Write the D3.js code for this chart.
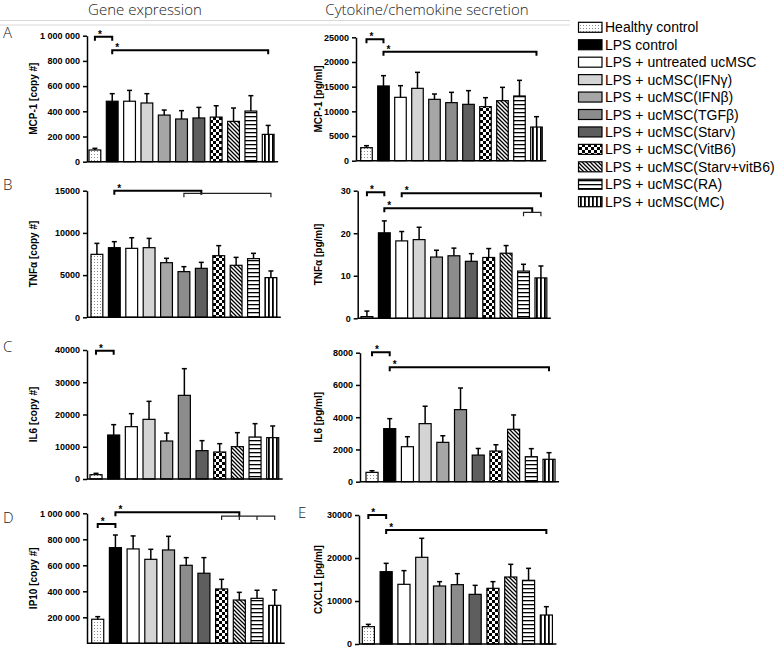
<!DOCTYPE html>
<html><head><meta charset="utf-8">
<script src="https://cdn.jsdelivr.net/npm/d3@7/dist/d3.min.js"></script>
<style>body{margin:0;background:#fff}</style>
</head><body>
<svg id="c" width="778" height="649" xmlns="http://www.w3.org/2000/svg"></svg>
<script>
// ---------- DATA ----------
const categories = ["Healthy control","LPS control","LPS + untreated ucMSC","LPS + ucMSC(IFNγ)","LPS + ucMSC(IFNβ)","LPS + ucMSC(TGFβ)","LPS + ucMSC(Starv)","LPS + ucMSC(VitB6)","LPS + ucMSC(Starv+vitB6)","LPS + ucMSC(RA)","LPS + ucMSC(MC)"];

const mcp1GeneMean = [93000, 480000, 480000, 466000, 370000, 339000, 347000, 354000, 320000, 402000, 217000];
const mcp1GeneSem  = [13000, 60000, 86000, 74000, 40000, 66000, 84000, 90000, 106000, 122000, 71000];
const mcp1SecMean  = [2640, 15140, 12840, 14660, 12430, 11760, 11420, 10950, 12160, 13110, 6820];
const mcp1SecSem   = [400, 2090, 2360, 3240, 1080, 2090, 2770, 1820, 2700, 3170, 2100];
const tnfGeneMean  = [7460, 8250, 8170, 8250, 6470, 5410, 5800, 7300, 6160, 6950, 4700];
const tnfGeneSem   = [1300, 710, 1260, 1100, 520, 590, 710, 1190, 940, 630, 790];
const tnfSecMean   = [0.4, 20.1, 18.2, 18.5, 14.4, 14.7, 13.4, 14.3, 15.3, 11.1, 9.5];
const tnfSecSem    = [1.3, 2.8, 2.2, 2.9, 1.6, 1.8, 1.8, 2.1, 1.8, 1.6, 2.8];
const il6GeneMean  = [1340, 13640, 16230, 18500, 11780, 25940, 8790, 8370, 10030, 13020, 12820];
const il6GeneSem   = [420, 3210, 4030, 5580, 2480, 8270, 3100, 2580, 4340, 4140, 3620];
const il6SecMean   = [580, 3290, 2170, 3600, 2440, 4470, 1650, 1900, 3250, 1550, 1390];
const il6SecSem    = [100, 620, 620, 1080, 410, 1340, 410, 390, 890, 500, 410];
const ip10GeneMean = [185000, 736000, 726000, 646000, 718000, 600000, 539000, 418000, 333000, 346000, 292000];
const ip10GeneSem  = [20000, 97000, 100000, 77000, 105000, 59000, 120000, 74000, 59000, 62000, 118000];
const cxcl1SecMean = [4030, 16820, 13880, 20160, 13490, 13800, 11550, 12950, 15580, 14810, 6740];
const cxcl1SecSem  = [540, 1940, 3180, 4420, 1010, 2560, 2090, 1550, 2950, 2790, 1940];

const ticksMillion = [0, 200000, 400000, 600000, 800000, 1000000];
const ticksIP10    = [200000, 400000, 600000, 800000, 1000000];
const ticksMcpSec  = [0, 5000, 10000, 15000, 20000, 25000];
const ticksTnfGene = [0, 5000, 10000, 15000];
const ticksTnfSec  = [0, 10, 20, 30];
const ticksIl6Gene = [0, 10000, 20000, 30000, 40000];
const ticksIl6Sec  = [0, 2000, 4000, 6000, 8000];
const ticksCxcl1   = [0, 10000, 20000, 30000];

// significance brackets: from/to bar index, y in data units
const sigMcpGene = [{a:0,b:1,y:992000,star:true},{a:1,b:10,y:884000,star:true}];
const sigMcpSec  = [{a:0,b:1,y:24600,star:true},{a:1,b:10,y:22080,star:true}];
const sigTnfGene = [{a:1,b:6,y:15000,star:true},{a:5,b:10,y:14690,thin:true}];
const sigTnfSec  = [{a:0,b:1,y:29.62,star:true},{a:2,b:10,y:29.39,star:true},{a:1,b:9.5,y:25.86,star:true},{a:9,b:10,y:24.92,thin:true}];
const sigIl6Gene = [{a:0,b:1,y:39780,star:true}];
const sigIl6Sec  = [{a:0,b:1,y:8025,star:true},{a:1,b:10,y:7095,star:true}];
const sigIp10    = [{a:0,b:1,y:918000,star:true},{a:1,b:8,y:1008000,star:true},{a:7,b:10,y:979000,thin:true,mid:[8,9]}];
const sigCxcl1   = [{a:0,b:1,y:30000,star:true},{a:1,b:10,y:26510,star:true}];

const titles = ["Gene expression","Cytokine/chemokine secretion"];

// ---------- DRAW ----------
const svg = d3.select("#c");
const defs = svg.append("defs");

function pat(id, w, h, build) {
  const p = defs.append("pattern").attr("id", id).attr("patternUnits","userSpaceOnUse")
    .attr("width", w).attr("height", h);
  p.append("rect").attr("width", w).attr("height", h).attr("fill", "#fff");
  build(p);
}
pat("pDots", 3, 3, p => { p.append("rect").attr("x",1).attr("y",1).attr("width",1).attr("height",1).attr("fill","#8a8a8a"); });
pat("pCheck", 6, 6, p => {
  p.append("rect").attr("x",0).attr("y",0).attr("width",3).attr("height",3).attr("fill","#000");
  p.append("rect").attr("x",3).attr("y",3).attr("width",3).attr("height",3).attr("fill","#000");
});
pat("pDiag", 4, 4, p => { p.append("path").attr("d","M-1,-1L5,5M-1,3L1,5M3,-1L5,1").attr("stroke","#000").attr("stroke-width",1.3); });
pat("pHor", 4, 4, p => { p.append("rect").attr("x",0).attr("y",0).attr("width",4).attr("height",1.3).attr("fill","#000"); });
pat("pVer", 4, 4, p => { p.append("rect").attr("x",0).attr("y",0).attr("width",1.8).attr("height",4).attr("fill","#000"); });

const fills = ["url(#pDots)","#000","#fff","#d4d4d4","#a6a6a6","#8c8c8c","#5e5e5e","url(#pCheck)","url(#pDiag)","url(#pHor)","url(#pVer)"];

const spaceFmt = v => v === 0 ? "0" : d3.format(",")(v).replace(/,/g, " ");
const plainFmt = d3.format("d");

const panels = [
  {mean:mcp1GeneMean, sem:mcp1GeneSem, ticks:ticksMillion, max:1000000, fmt:spaceFmt, title:"MCP-1 [copy #]", sig:sigMcpGene,
   ax:87, y0:161.7, y1:35.7, first:89, pitch:17.33, tx:33, letter:"A", lx:3, ly:38},
  {mean:mcp1SecMean, sem:mcp1SecSem, ticks:ticksMcpSec, max:25000, fmt:plainFmt, title:"MCP-1 [pg/ml]", sig:sigMcpSec,
   ax:356, y0:160.7, y1:37.3, first:360.7, pitch:17.0, tx:318},
  {mean:tnfGeneMean, sem:tnfGeneSem, ticks:ticksTnfGene, max:15000, fmt:plainFmt, title:"TNFα  [copy #]", sig:sigTnfGene,
   ax:87, y0:317.3, y1:190.7, first:91, pitch:17.4, tx:33, letter:"B", lx:3, ly:190},
  {mean:tnfSecMean, sem:tnfSecSem, ticks:ticksTnfSec, max:30, fmt:plainFmt, title:"TNFα [pg/ml]", sig:sigTnfSec,
   ax:357.7, y0:318.3, y1:190.7, first:361, pitch:17.4, tx:318},
  {mean:il6GeneMean, sem:il6GeneSem, ticks:ticksIl6Gene, max:40000, fmt:plainFmt, title:"IL6 [copy #]", sig:sigIl6Gene,
   ax:87, y0:479, y1:350, first:90, pitch:17.67, tx:33, letter:"C", lx:3, ly:352},
  {mean:il6SecMean, sem:il6SecSem, ticks:ticksIl6Sec, max:8000, fmt:plainFmt, title:"IL6  [pg/ml]", sig:sigIl6Sec,
   ax:360, y0:481.7, y1:352.7, first:366, pitch:17.7, tx:318},
  {mean:ip10GeneMean, sem:ip10GeneSem, ticks:ticksIP10, max:1000000, fmt:spaceFmt, title:"IP10 [copy #]", sig:sigIp10,
   ax:87, y0:643.3, y1:513.3, first:91.7, pitch:17.7, tx:33, letter:"D", lx:3, ly:523},
  {mean:cxcl1SecMean, sem:cxcl1SecSem, ticks:ticksCxcl1, max:30000, fmt:plainFmt, title:"CXCL1 [pg/ml]", sig:sigCxcl1,
   ax:359, y0:644, y1:515, first:362.3, pitch:17.8, tx:318, letter:"E", lx:298, ly:518}
];

const tickFont = "'Liberation Sans', Arial, sans-serif";

panels.forEach(P => {
  const g = svg.append("g");
  const x = d3.scaleBand().domain(d3.range(categories.length))
    .range([P.first - 0.1*P.pitch, P.first - 0.1*P.pitch + P.pitch*10.88])
    .paddingInner(0.32).paddingOuter(0.1);
  const cx = i => {
    const lo = Math.floor(i), hi = Math.ceil(i), f = i - lo;
    return (x(lo) + x.bandwidth()/2) * (1-f) + (x(hi) + x.bandwidth()/2) * f;
  };
  const y = d3.scaleLinear().domain([0, P.max]).range([P.y0, P.y1]);

  // bars
  g.selectAll("rect.bar").data(P.mean).join("rect").attr("class","bar")
    .attr("x", (d,i) => x(i)).attr("width", x.bandwidth())
    .attr("y", d => y(d)).attr("height", d => P.y0 - y(d))
    .attr("fill", (d,i) => fills[i]).attr("stroke", "#000").attr("stroke-width", 1.2);

  // error bars (upper)
  const eb = g.selectAll("g.eb").data(P.mean).join("g").attr("class","eb");
  eb.append("line").attr("x1",(d,i)=>cx(i)).attr("x2",(d,i)=>cx(i))
    .attr("y1", d => y(d)).attr("y2", (d,i) => y(d + P.sem[i]))
    .attr("stroke","#000").attr("stroke-width",1.5);
  eb.append("line").attr("x1",(d,i)=>cx(i)-2.5).attr("x2",(d,i)=>cx(i)+2.5)
    .attr("y1", (d,i) => y(d + P.sem[i])).attr("y2", (d,i) => y(d + P.sem[i]))
    .attr("stroke","#000").attr("stroke-width",1.5);

  // baseline
  g.append("line").attr("x1", P.ax).attr("x2", x(10) + x.bandwidth() + 4)
    .attr("y1", P.y0).attr("y2", P.y0).attr("stroke","#000").attr("stroke-width",1.5);

  // y axis
  const axis = g.append("g").attr("transform", `translate(${P.ax},0)`)
    .call(d3.axisLeft(y).tickValues(P.ticks).tickFormat(P.fmt).tickSize(4).tickSizeOuter(0).tickPadding(3));
  axis.select(".domain").attr("stroke","#000").attr("stroke-width",1.5);
  axis.selectAll(".tick line").attr("stroke","#000").attr("stroke-width",1.5);
  axis.selectAll(".tick text").attr("font-family", tickFont).attr("font-size", 9).attr("font-weight","bold").attr("fill","#000");

  // y title
  g.append("text").attr("transform", `translate(${P.tx},${(P.y0+P.y1)/2}) rotate(-90)`)
    .attr("text-anchor","middle").attr("dy","0.35em")
    .attr("font-family", tickFont).attr("font-size", 10).attr("font-weight","bold").text(P.title);

  // significance brackets
  P.sig.forEach(s => {
    const xa = cx(s.a), xb = cx(s.b), yy = y(s.y), sw = s.thin ? 1.2 : 2;
    const col = s.thin ? "#222" : "#000";
    let d = `M${xa},${yy+4}V${yy}H${xb}V${yy+4}`;
    (s.mid || []).forEach(m => { d += `M${cx(m)},${yy}V${yy+4}`; });
    g.append("path").attr("d", d).attr("fill","none").attr("stroke",col).attr("stroke-width",sw);
    if (s.star) g.append("text").attr("x", xa + 3).attr("y", yy + 1)
      .attr("font-family", tickFont).attr("font-size", 10).attr("font-weight","bold").text("*");
  });

  if (P.letter) svg.append("text").attr("x", P.lx).attr("y", P.ly)
    .attr("font-family","'Open Sans', sans-serif").attr("font-weight",300).attr("font-size",15).attr("fill","#222").text(P.letter);
});

// column titles and rule
svg.append("text").attr("x",145).attr("y",15).attr("text-anchor","middle")
  .attr("font-family","'Open Sans', sans-serif").attr("font-weight",300).attr("font-size",15).attr("fill","#222").text(titles[0]);
svg.append("text").attr("x",427).attr("y",15).attr("text-anchor","middle")
  .attr("font-family","'Open Sans', sans-serif").attr("font-weight",300).attr("font-size",15).attr("fill","#222").text(titles[1]);
svg.append("line").attr("x1",0).attr("x2",570).attr("y1",20.5).attr("y2",20.5).attr("stroke","#d8d8d8").attr("stroke-width",1);
svg.append("line").attr("x1",0).attr("x2",570).attr("y1",25).attr("y2",25).attr("stroke","#d8d8d8").attr("stroke-width",1);

// legend
const leg = svg.append("g");
categories.forEach((c, i) => {
  const yc = 27.3 + i * 17.44;
  leg.append("rect").attr("x",578.5).attr("y",yc-5).attr("width",23.5).attr("height",10)
    .attr("fill", fills[i]).attr("stroke","#000").attr("stroke-width",1.2);
  leg.append("text").attr("x",605).attr("y",yc+5).attr("font-family",tickFont).attr("font-size",14).attr("fill","#000").text(c);
});
</script>
</body></html>
